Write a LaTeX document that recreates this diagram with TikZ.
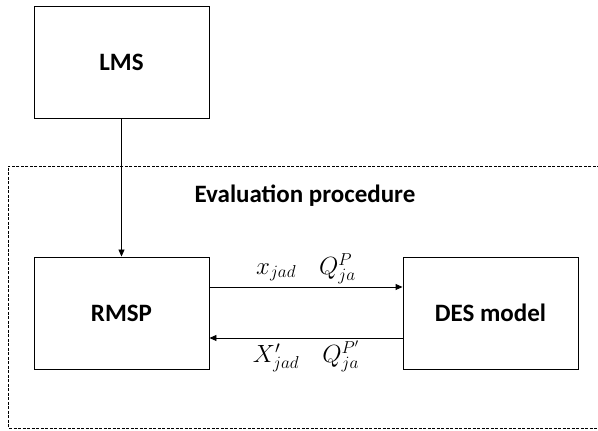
\documentclass[tikz,border=0pt]{standalone}
\usepackage{fontspec}
\setmainfont{Carlito}
\usetikzlibrary{arrows.meta, positioning}

\begin{document}
\begin{tikzpicture}[x=1pt, y=1pt,
        block/.style={rectangle, draw, line width=0.9pt, minimum width=175pt, minimum height=112pt, align=center, font=\fontsize{25}{30}\selectfont\bfseries},
        arrow/.style={-{Triangle[length=7pt, width=6pt]}, line width=0.9pt},
        frame/.style={draw, line width=0.7pt, dash pattern=on 3pt off 1.5pt},
        flow/.style={font=\fontsize{23}{28}\selectfont, inner sep=1pt}
        ]
        \useasboundingbox (0,0) rectangle (598,431);

        % Nodes
        \node (lms) [block] at (121.5,369) {LMS};
        \node (rmsp) [block] at (121.5,118) {RMSP};
        \node (des) [block] at (490.5,118) {DES model};
        \node (title) [font=\fontsize{25}{30}\selectfont\bfseries] at (305,235) {Evaluation procedure};

        % Dashed frame, open at the right border
        \draw [frame] (600,265) -- (8,265) -- (8,3) -- (600,3);

        % Arrows with labels
        \draw [arrow] (lms.south) -- (rmsp.north);
        \draw [arrow] ([yshift=26pt]rmsp.east) -- node[flow, above=2pt] {$x_{jad}\quad Q_{ja}^{P}$} ([yshift=26pt]des.west);
        \draw [arrow] ([yshift=-25pt]des.west) -- node[flow, below=1pt] {$X'_{jad}\quad Q_{ja}^{P'}$} ([yshift=-25pt]rmsp.east);

    \end{tikzpicture}
\end{document}
